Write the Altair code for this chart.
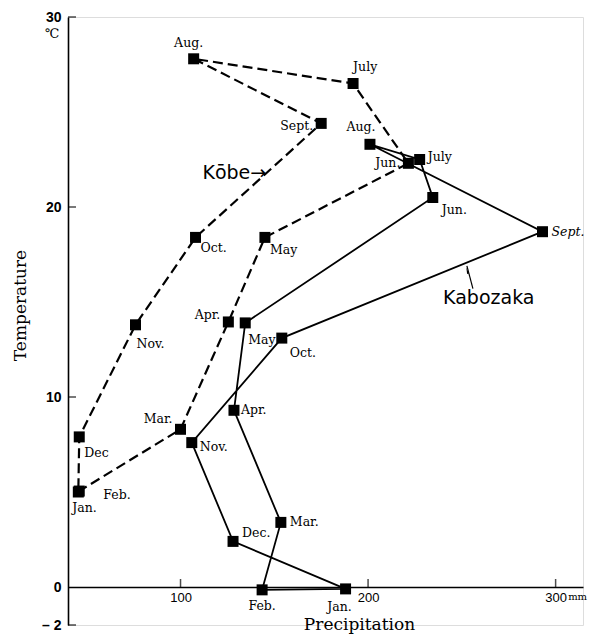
import altair as alt
import pandas as pd

# ---- data ----
kobe_months = ["Jan.", "Feb.", "Mar.", "Apr.", "May", "Jun.", "July", "Aug.", "Sept.", "Oct.", "Nov.", "Dec"]
kobe_precip = [45.5, 46.0, 100, 125.5, 145, 221.5, 192, 107, 175, 108, 76, 46]
kobe_temp = [5.0, 5.05, 8.3, 13.95, 18.4, 22.3, 26.5, 27.8, 24.4, 18.4, 13.8, 7.9]

kab_months = ["Jan.", "Feb.", "Mar.", "Apr.", "May", "Jun.", "July", "Aug.", "Sept.", "Oct.", "Nov.", "Dec."]
kab_precip = [188, 143.5, 153.5, 128.5, 134.5, 234.5, 227.5, 201, 293, 154, 106, 128]
kab_temp = [-0.1, -0.15, 3.4, 9.3, 13.9, 20.5, 22.5, 23.3, 18.7, 13.1, 7.6, 2.4]

x_ticks = [100, 200, 300]
y_ticks = [-2, 10, 20, 30]

# label placement (dx, dy, align) in pixels, separate from data
place = {
    ("Kobe", "Jan."): (-6, 16, "left"), ("Kobe", "Feb."): (24, 4, "left"),
    ("Kobe", "Mar."): (-8, -10, "right"), ("Kobe", "Apr."): (-8, -7, "right"),
    ("Kobe", "May"): (5, 13, "left"), ("Kobe", "Jun."): (-8, 0, "right"),
    ("Kobe", "July"): (0, -17, "left"), ("Kobe", "Aug."): (-5, -16, "center"),
    ("Kobe", "Sept."): (-8, 3, "right"), ("Kobe", "Oct."): (5, 11, "left"),
    ("Kobe", "Nov."): (1, 19, "left"), ("Kobe", "Dec"): (5, 16, "left"),
    ("Kab", "Jan."): (-6, 18, "center"), ("Kab", "Feb."): (0, 16, "center"),
    ("Kab", "Mar."): (9, 0, "left"), ("Kab", "Apr."): (7, 0, "left"),
    ("Kab", "May"): (3, 17, "left"), ("Kab", "Jun."): (9, 12, "left"),
    ("Kab", "July"): (8, -3, "left"), ("Kab", "Aug."): (-9, -17, "center"),
    ("Kab", "Sept."): (9, 0, "left"), ("Kab", "Oct."): (8, 15, "left"),
    ("Kab", "Nov."): (8, 4, "left"), ("Kab", "Dec."): (9, -8, "left"),
}

rows = []
for series, ms, ps, ts in [("Kobe", kobe_months, kobe_precip, kobe_temp),
                           ("Kab", kab_months, kab_precip, kab_temp)]:
    for i in range(13):
        j = i % 12
        rows.append(dict(series=series, order=i, month=ms[j], precip=ps[j], temp=ts[j]))
df = pd.DataFrame(rows)
pts = df[df.order < 12]

X = alt.X("precip:Q", scale=alt.Scale(domain=[40, 314.6], nice=False, zero=False),
          axis=alt.Axis(title="Precipitation", values=x_ticks, ticks=False, grid=False,
                        offset=-38, domainColor="black", domainWidth=1.6,
                        labelFont="Liberation Sans", labelFontSize=13, labelColor="black",
                        labelPadding=4,
                        titleFont="DejaVu Serif", titleFontSize=17, titleFontWeight="normal",
                        titleColor="black", titleX=291, titleY=42, titleAlign="center",
                        titleBaseline="alphabetic"))
Y = alt.Y("temp:Q", scale=alt.Scale(domain=[-2, 30], nice=False, zero=False),
          axis=alt.Axis(title="Temperature", values=[-2, 0, 10, 20, 30], ticks=False, grid=False,
                        labelExpr="datum.value == -2 ? '\u2013 2' : datum.label",
                        domainColor="black", domainWidth=1.6,
                        labelFont="Liberation Sans", labelFontSize=14, labelFontWeight="bold",
                        labelColor="black", labelPadding=7,
                        titleFont="DejaVu Serif", titleFontSize=17, titleFontWeight="normal",
                        titleColor="black", titleAngle=270, titleX=-48, titleY=288,
                        titleAlign="center", titleBaseline="middle"))

base = alt.Chart(df)

kobe_line = base.transform_filter("datum.series == 'Kobe'").mark_line(
    color="black", strokeWidth=2.2, strokeDash=[10, 5]).encode(x=X, y=Y, order="order:Q")
kab_line = base.transform_filter("datum.series == 'Kab'").mark_line(
    color="black", strokeWidth=1.8).encode(x=X, y=Y, order="order:Q")
markers = alt.Chart(pts).mark_square(size=121, color="black", opacity=1).encode(x=X, y=Y)

labels = []
for (series, m), (dx, dy, al) in place.items():
    style = "italic" if (series == "Kab" and m == "Sept.") else "normal"
    labels.append(
        alt.Chart(pts).transform_filter(
            f"datum.series == '{series}' && datum.month == '{m}'"
        ).mark_text(dx=dx, dy=dy, align=al, baseline="middle", font="DejaVu Serif",
                    fontSize=12.5, fontStyle=style, color="black").encode(x=X, y=Y, text="month:N")
    )

xt = alt.Chart(pd.DataFrame({"precip": x_ticks, "temp": [0] * 3})).mark_tick(
    orient="vertical", size=8, thickness=1.5, yOffset=-4, color="black").encode(x=X, y=Y)
yt = alt.Chart(pd.DataFrame({"precip": [40] * 4, "temp": y_ticks})).mark_tick(
    orient="horizontal", size=8, thickness=1.5, xOffset=4, color="black").encode(x=X, y=Y)

ann = pd.DataFrame({"precip": [111.7], "temp": [21.8], "t": ["K\u014dbe\u2192"]})
kobe_txt = alt.Chart(ann).mark_text(align="left", baseline="middle", font="DejaVu Sans",
                                    fontSize=19, color="black").encode(x=X, y=Y, text="t:N")
ann2 = pd.DataFrame({"precip": [240], "temp": [15.2], "t": ["Kabozaka"]})
kab_txt = alt.Chart(ann2).mark_text(align="left", baseline="middle", font="DejaVu Sans",
                                    fontSize=19, color="black").encode(x=X, y=Y, text="t:N")
arrow = alt.Chart(pd.DataFrame({"precip": [255.9], "temp": [15.7], "p2": [252.7], "t2": [16.9]})
                  ).mark_rule(color="black", strokeWidth=1.2).encode(x=X, y=Y, x2="p2:Q", y2="t2:Q")
head = alt.Chart(pd.DataFrame({"precip": [253.0], "temp": [16.6]})).mark_point(
    shape="wedge", size=60, filled=True, color="black", opacity=1, angle=345).encode(x=X, y=Y)

unit = pd.DataFrame({"precip": [40], "temp": [30], "t": ["\u2103"]})
deg = alt.Chart(unit).mark_text(dx=-16, dy=17, font="DejaVu Serif", fontSize=13,
                                color="black").encode(x=X, y=Y, text="t:N")
mm = alt.Chart(pd.DataFrame({"precip": [300], "temp": [0], "t": ["mm"]})).mark_text(
    dx=22, dy=10, font="DejaVu Serif", fontSize=10, color="black").encode(x=X, y=Y, text="t:N")

chart = alt.layer(kobe_line, kab_line, markers, *labels, xt, yt, kobe_txt, kab_txt, arrow, head,
                  deg, mm).properties(
    width=515, height=608,
    autosize=alt.AutoSizeParams(type="none"),
    padding={"left": 60, "top": 9, "right": 8, "bottom": 9},
).configure_view(stroke=None).configure(background="white").configure_axis(
    titleFont="DejaVu Serif", titleFontWeight="normal")

chart.save("out.html", embed_options={"renderer": "svg", "actions": False})
